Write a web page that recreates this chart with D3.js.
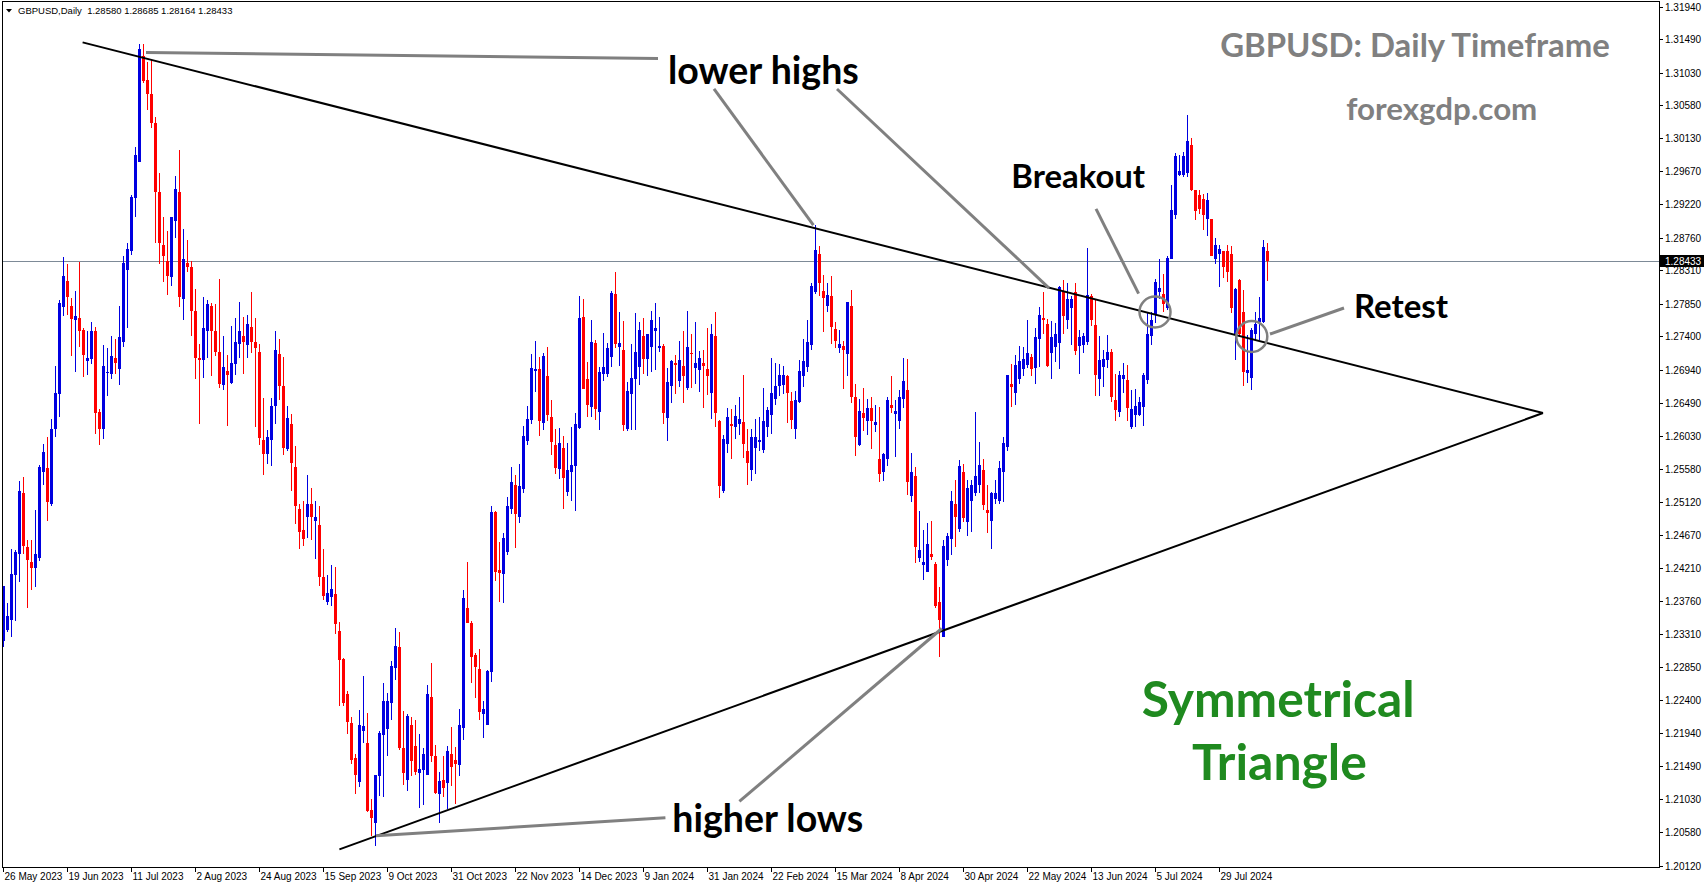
<!DOCTYPE html>
<html>
<head>
<meta charset="utf-8">
<script src="https://cdn.jsdelivr.net/npm/d3@7"></script>
<style>
    html, body { margin: 0; padding: 0; background: #fff; }
    svg { display: block; }
    .axis-text { font-family: "Liberation Sans", Arial, sans-serif; font-size: 10px; fill: #000; }
    .note { font-family: Lato, "Open Sans", sans-serif; font-weight: bold; }
</style>
</head>
<body>
<svg id="chart"></svg>
<script>
const symbol = "GBPUSD,Daily";
const lastQuote = ["1.28580", "1.28685", "1.28164", "1.28433"];
const currentPrice = 1.28433;

const dateLabels = ["26 May 2023", "19 Jun 2023", "11 Jul 2023", "2 Aug 2023", "24 Aug 2023",
    "15 Sep 2023", "9 Oct 2023", "31 Oct 2023", "22 Nov 2023", "14 Dec 2023", "9 Jan 2024",
    "31 Jan 2024", "22 Feb 2024", "15 Mar 2024", "8 Apr 2024", "30 Apr 2024", "22 May 2024",
    "13 Jun 2024", "5 Jul 2024", "29 Jul 2024"];
const dateLabelBars = [0, 16, 32, 48, 64, 80, 96, 112, 128, 144, 160, 176, 192, 208, 224, 240, 256, 272, 288, 304];

const priceTicks = [1.31940, 1.31490, 1.31030, 1.30580, 1.30130, 1.29670, 1.29220, 1.28760, 1.28310,
    1.27850, 1.27400, 1.26940, 1.26490, 1.26030, 1.25580, 1.25120, 1.24670, 1.24210, 1.23760,
    1.23310, 1.22850, 1.22400, 1.21940, 1.21490, 1.21030, 1.20580, 1.20120];

// daily bars, 26 May 2023 .. 14 Aug 2024
const opens = [
    1.2321, 1.2336, 1.2350, 1.2412, 1.2440, 1.2525, 1.2450, 1.2430, 1.2422, 1.2435,
    1.2553, 1.2559, 1.2510, 1.2612, 1.2661, 1.2781, 1.2816, 1.2782, 1.2763, 1.2765,
    1.2749, 1.2706, 1.2709, 1.2747, 1.2636, 1.2613, 1.2690, 1.2688, 1.2711, 1.2695,
    1.2733, 1.2831, 1.2857, 1.2931, 1.2980, 1.3126, 1.3093, 1.3074, 1.3034, 1.2939,
    1.2866, 1.2844, 1.2822, 1.2899, 1.2939, 1.2792, 1.2841, 1.2836, 1.2775, 1.2711,
    1.2707, 1.2748, 1.2782, 1.2747, 1.2719, 1.2673, 1.2693, 1.2676, 1.2702, 1.2729,
    1.2740, 1.2728, 1.2753, 1.2732, 1.2719, 1.2598, 1.2578, 1.2598, 1.2644, 1.2716,
    1.2672, 1.2585, 1.2619, 1.2561, 1.2502, 1.2474, 1.2491, 1.2509, 1.2486, 1.2480,
    1.2409, 1.2375, 1.2381, 1.2386, 1.2335, 1.2296, 1.2248, 1.2208, 1.2160, 1.2127,
    1.2197, 1.2180, 1.2088, 1.2070, 1.2135, 1.2191, 1.2200, 1.2236, 1.2284, 1.2312,
    1.2173, 1.2130, 1.2206, 1.2176, 1.2139, 1.2144, 1.2137, 1.2244, 1.2162, 1.2111,
    1.2130, 1.2126, 1.2166, 1.2157, 1.2150, 1.2201, 1.2366, 1.2346, 1.2302, 1.2282,
    1.2220, 1.2206, 1.2278, 1.2498, 1.2418, 1.2413, 1.2444, 1.2503, 1.2536, 1.2492,
    1.2530, 1.2596, 1.2625, 1.2693, 1.2695, 1.2621, 1.2686, 1.2629, 1.2590, 1.2557,
    1.2587, 1.2526, 1.2554, 1.2562, 1.2614, 1.2767, 1.2682, 1.2643, 1.2731, 1.2636,
    1.2688, 1.2688, 1.2712, 1.2798, 1.2726, 1.2721, 1.2613, 1.2661, 1.2682, 1.2698,
    1.2740, 1.2709, 1.2726, 1.2747, 1.2724, 1.2727, 1.2628, 1.2672, 1.2704, 1.2678,
    1.2700, 1.2669, 1.2717, 1.2697, 1.2694, 1.2703, 1.2695, 1.2662, 1.2740, 1.2624,
    1.2528, 1.2592, 1.2619, 1.2616, 1.2619, 1.2622, 1.2583, 1.2556, 1.2587, 1.2595,
    1.2584, 1.2616, 1.2632, 1.2654, 1.2672, 1.2673, 1.2686, 1.2651, 1.2613, 1.2650,
    1.2686, 1.2698, 1.2728, 1.2801, 1.2853, 1.2802, 1.2782, 1.2795, 1.2750, 1.2724,
    1.2727, 1.2716, 1.2782, 1.2656, 1.2591, 1.2635, 1.2623, 1.2642, 1.2618, 1.2572,
    1.2553, 1.2571, 1.2646, 1.2633, 1.2623, 1.2654, 1.2666, 1.2521, 1.2548, 1.2435,
    1.2426, 1.2416, 1.2441, 1.2427, 1.2374, 1.2327, 1.2433, 1.2461, 1.2509, 1.2475,
    1.2553, 1.2484, 1.2514, 1.2524, 1.2535, 1.2556, 1.2501, 1.2486, 1.2516, 1.2513,
    1.2554, 1.2588, 1.2675, 1.2662, 1.2682, 1.2695, 1.2701, 1.2712, 1.2697, 1.2737,
    1.2765, 1.2757, 1.2717, 1.2726, 1.2731, 1.2801, 1.2763, 1.2779, 1.2801, 1.2727,
    1.2728, 1.2733, 1.2796, 1.2756, 1.2682, 1.2698, 1.2707, 1.2718, 1.2653, 1.2636,
    1.2682, 1.2680, 1.2616, 1.2632, 1.2632, 1.2643, 1.2680, 1.2740, 1.2769, 1.2801,
    1.2799, 1.2779, 1.2847, 1.2907, 1.2962, 1.2962, 1.2965, 1.3003, 1.2941, 1.2935,
    1.2929, 1.2901, 1.2901, 1.2847, 1.2854, 1.2857, 1.2857, 1.2853, 1.2743, 1.2818,
    1.2774, 1.2690, 1.2683, 1.2744, 1.2760, 1.2760, 1.28580
];
const highs = [
    1.2397, 1.2373, 1.2448, 1.2446, 1.2541, 1.2546, 1.2460, 1.2460, 1.2501, 1.2563,
    1.2592, 1.2601, 1.2626, 1.2699, 1.2790, 1.2849, 1.2839, 1.2793, 1.2802, 1.2843,
    1.2751, 1.2748, 1.2760, 1.2753, 1.2640, 1.2728, 1.2724, 1.2740, 1.2736, 1.2782,
    1.2851, 1.2869, 1.2935, 1.3001, 1.3142, 1.3143, 1.3117, 1.3122, 1.3042, 1.2965,
    1.2904, 1.2885, 1.2905, 1.2961, 1.2997, 1.2888, 1.2873, 1.2844, 1.2805, 1.2730,
    1.2794, 1.2790, 1.2786, 1.2784, 1.2819, 1.2740, 1.2715, 1.2754, 1.2766, 1.2788,
    1.2767, 1.2769, 1.2801, 1.2765, 1.2730, 1.2655, 1.2611, 1.2655, 1.2748, 1.2736,
    1.2712, 1.2644, 1.2633, 1.2589, 1.2509, 1.2514, 1.2549, 1.2532, 1.2514, 1.2507,
    1.2448, 1.2412, 1.2426, 1.2423, 1.2347, 1.2298, 1.2252, 1.2217, 1.2166, 1.2226,
    1.2273, 1.2222, 1.2104, 1.2137, 1.2197, 1.2263, 1.2249, 1.2293, 1.2339, 1.2333,
    1.2224, 1.2220, 1.2216, 1.2212, 1.2193, 1.2173, 1.2260, 1.2290, 1.2178, 1.2141,
    1.2163, 1.2176, 1.2202, 1.2175, 1.2228, 1.2391, 1.2430, 1.2349, 1.2304, 1.2310,
    1.2239, 1.2281, 1.2507, 1.2500, 1.2457, 1.2469, 1.2519, 1.2561, 1.2549, 1.2565,
    1.2617, 1.2644, 1.2716, 1.2734, 1.2712, 1.2717, 1.2726, 1.2652, 1.2613, 1.2614,
    1.2603, 1.2593, 1.2616, 1.2635, 1.2795, 1.2791, 1.2705, 1.2763, 1.2735, 1.2698,
    1.2745, 1.2731, 1.2803, 1.2829, 1.2774, 1.2761, 1.2677, 1.2730, 1.2772, 1.2760,
    1.2766, 1.2744, 1.2775, 1.2786, 1.2767, 1.2729, 1.2697, 1.2708, 1.2715, 1.2734,
    1.2747, 1.2775, 1.2743, 1.2760, 1.2720, 1.2721, 1.2752, 1.2757, 1.2774, 1.2625,
    1.2604, 1.2642, 1.2640, 1.2645, 1.2656, 1.2687, 1.2612, 1.2612, 1.2626, 1.2629,
    1.2669, 1.2643, 1.2711, 1.2704, 1.2702, 1.2700, 1.2687, 1.2664, 1.2665, 1.2708,
    1.2736, 1.2763, 1.2813, 1.2893, 1.2864, 1.2825, 1.2813, 1.2823, 1.2760, 1.2749,
    1.2734, 1.2788, 1.2804, 1.2675, 1.2654, 1.2669, 1.2654, 1.2656, 1.2646, 1.2643,
    1.2579, 1.2657, 1.2685, 1.2652, 1.2666, 1.2711, 1.2709, 1.2579, 1.2561, 1.2500,
    1.2473, 1.2483, 1.2486, 1.2429, 1.2395, 1.2460, 1.2470, 1.2528, 1.2542, 1.2570,
    1.2565, 1.2543, 1.2542, 1.2636, 1.2595, 1.2571, 1.2536, 1.2526, 1.2543, 1.2568,
    1.2601, 1.2687, 1.2702, 1.2714, 1.2727, 1.2726, 1.2763, 1.2716, 1.2751, 1.2780,
    1.2801, 1.2764, 1.2761, 1.2758, 1.2810, 1.2817, 1.2814, 1.2796, 1.2813, 1.2749,
    1.2745, 1.2862, 1.2799, 1.2790, 1.2740, 1.2721, 1.2742, 1.2723, 1.2688, 1.2693,
    1.2703, 1.2701, 1.2666, 1.2668, 1.2656, 1.2690, 1.2772, 1.2773, 1.2819, 1.2847,
    1.2826, 1.2850, 1.2949, 1.2992, 1.2990, 1.2994, 1.3045, 1.3013, 1.2942, 1.2941,
    1.2936, 1.2937, 1.2902, 1.2876, 1.2866, 1.2857, 1.2866, 1.2865, 1.2806, 1.2819,
    1.2804, 1.2742, 1.2751, 1.2774, 1.2794, 1.2873, 1.28685
];
const lows = [
    1.2313, 1.2333, 1.2327, 1.2348, 1.2402, 1.2441, 1.2367, 1.2391, 1.2395, 1.2431,
    1.2535, 1.2486, 1.2507, 1.2601, 1.2629, 1.2768, 1.2770, 1.2713, 1.2691, 1.2726,
    1.2684, 1.2687, 1.2702, 1.2606, 1.2591, 1.2599, 1.2658, 1.2681, 1.2689, 1.2673,
    1.2725, 1.2751, 1.2852, 1.2904, 1.2980, 1.3089, 1.3051, 1.3027, 1.2868, 1.2839,
    1.2815, 1.2797, 1.2810, 1.2875, 1.2781, 1.2763, 1.2828, 1.2741, 1.2681, 1.2620,
    1.2683, 1.2711, 1.2685, 1.2713, 1.2669, 1.2666, 1.2617, 1.2674, 1.2687, 1.2711,
    1.2689, 1.2710, 1.2717, 1.2615, 1.2591, 1.2549, 1.2565, 1.2562, 1.2619, 1.2653,
    1.2577, 1.2583, 1.2527, 1.2482, 1.2447, 1.2451, 1.2463, 1.2460, 1.2434, 1.2397,
    1.2378, 1.2370, 1.2369, 1.2331, 1.2232, 1.2231, 1.2193, 1.2152, 1.2110, 1.2120,
    1.2181, 1.2086, 1.2053, 1.2039, 1.2108, 1.2106, 1.2163, 1.2212, 1.2267, 1.2171,
    1.2123, 1.2115, 1.2135, 1.2137, 1.2091, 1.2095, 1.2136, 1.2154, 1.2111, 1.2070,
    1.2106, 1.2090, 1.2122, 1.2097, 1.2135, 1.2185, 1.2345, 1.2263, 1.2242, 1.2212,
    1.2188, 1.2205, 1.2265, 1.2403, 1.2375, 1.2373, 1.2439, 1.2496, 1.2449, 1.2483,
    1.2525, 1.2590, 1.2619, 1.2663, 1.2603, 1.2611, 1.2623, 1.2577, 1.2551, 1.2544,
    1.2503, 1.2520, 1.2514, 1.2500, 1.2612, 1.2667, 1.2629, 1.2629, 1.2625, 1.2611,
    1.2679, 1.2684, 1.2698, 1.2724, 1.2700, 1.2610, 1.2610, 1.2611, 1.2611, 1.2673,
    1.2688, 1.2686, 1.2691, 1.2694, 1.2719, 1.2619, 1.2596, 1.2649, 1.2661, 1.2671,
    1.2649, 1.2666, 1.2669, 1.2675, 1.2663, 1.2641, 1.2659, 1.2626, 1.2616, 1.2518,
    1.2525, 1.2580, 1.2571, 1.2599, 1.2605, 1.2573, 1.2535, 1.2541, 1.2551, 1.2583,
    1.2579, 1.2602, 1.2606, 1.2646, 1.2658, 1.2661, 1.2621, 1.2613, 1.2599, 1.2649,
    1.2671, 1.2691, 1.2721, 1.2798, 1.2795, 1.2746, 1.2774, 1.2730, 1.2724, 1.2717,
    1.2668, 1.2685, 1.2649, 1.2575, 1.2589, 1.2610, 1.2604, 1.2585, 1.2608, 1.2540,
    1.2541, 1.2562, 1.2635, 1.2574, 1.2613, 1.2641, 1.2522, 1.2512, 1.2428, 1.2430,
    1.2405, 1.2416, 1.2433, 1.2366, 1.2299, 1.2327, 1.2424, 1.2439, 1.2450, 1.2471,
    1.2484, 1.2465, 1.2471, 1.2520, 1.2524, 1.2501, 1.2469, 1.2447, 1.2510, 1.2509,
    1.2512, 1.2583, 1.2643, 1.2645, 1.2675, 1.2685, 1.2696, 1.2685, 1.2675, 1.2698,
    1.2744, 1.2698, 1.2681, 1.2705, 1.2695, 1.2743, 1.2750, 1.2728, 1.2715, 1.2688,
    1.2717, 1.2728, 1.2755, 1.2658, 1.2658, 1.2671, 1.2697, 1.2650, 1.2623, 1.2629,
    1.2662, 1.2623, 1.2613, 1.2616, 1.2630, 1.2617, 1.2675, 1.2728, 1.2759, 1.2792,
    1.2774, 1.2777, 1.2846, 1.2901, 1.2961, 1.2959, 1.2960, 1.2940, 1.2900, 1.2909,
    1.2887, 1.2878, 1.2850, 1.2840, 1.2808, 1.2820, 1.2815, 1.2772, 1.2707, 1.2740,
    1.2672, 1.2676, 1.2666, 1.2734, 1.2735, 1.2759, 1.28164
];
const closes = [
    1.2397, 1.2355, 1.2413, 1.2443, 1.2527, 1.2451, 1.2432, 1.2422, 1.2440, 1.2561,
    1.2581, 1.2512, 1.2613, 1.2662, 1.2786, 1.2823, 1.2794, 1.2764, 1.2768, 1.2747,
    1.2715, 1.2711, 1.2748, 1.2635, 1.2612, 1.2699, 1.2691, 1.2713, 1.2704, 1.2739,
    1.2841, 1.2861, 1.2932, 1.2989, 1.3135, 1.3092, 1.3073, 1.3034, 1.2939, 1.2868,
    1.2851, 1.2823, 1.2904, 1.2943, 1.2794, 1.2847, 1.2835, 1.2775, 1.2710, 1.2707,
    1.2751, 1.2785, 1.2748, 1.2718, 1.2675, 1.2698, 1.2687, 1.2704, 1.2732, 1.2747,
    1.2732, 1.2757, 1.2732, 1.2724, 1.2600, 1.2578, 1.2602, 1.2644, 1.2721, 1.2672,
    1.2587, 1.2628, 1.2566, 1.2507, 1.2471, 1.2461, 1.2509, 1.2492, 1.2492, 1.2409,
    1.2383, 1.2387, 1.2392, 1.2344, 1.2295, 1.2236, 1.2210, 1.2157, 1.2136, 1.2205,
    1.2204, 1.2087, 1.2078, 1.2136, 1.2194, 1.2238, 1.2238, 1.2286, 1.2314, 1.2174,
    1.2139, 1.2218, 1.2156, 1.2140, 1.2145, 1.2166, 1.2248, 1.2162, 1.2112, 1.2128,
    1.2118, 1.2170, 1.2148, 1.2152, 1.2205, 1.2380, 1.2345, 1.2299, 1.2285, 1.2223,
    1.2227, 1.2280, 1.2498, 1.2416, 1.2414, 1.2463, 1.2507, 1.2540, 1.2495, 1.2534,
    1.2603, 1.2627, 1.2697, 1.2695, 1.2623, 1.2713, 1.2632, 1.2595, 1.2559, 1.2594,
    1.2545, 1.2556, 1.2563, 1.2619, 1.2766, 1.2668, 1.2646, 1.2733, 1.2640, 1.2691,
    1.2698, 1.2724, 1.2800, 1.2730, 1.2731, 1.2618, 1.2665, 1.2683, 1.2719, 1.2749,
    1.2709, 1.2744, 1.2762, 1.2752, 1.2727, 1.2635, 1.2677, 1.2706, 1.2701, 1.2708,
    1.2686, 1.2725, 1.2716, 1.2703, 1.2710, 1.2700, 1.2686, 1.2744, 1.2634, 1.2534,
    1.2599, 1.2629, 1.2617, 1.2631, 1.2627, 1.2592, 1.2566, 1.2601, 1.2601, 1.2598,
    1.2624, 1.2639, 1.2662, 1.2672, 1.2687, 1.2687, 1.2662, 1.2625, 1.2653, 1.2692,
    1.2706, 1.2733, 1.2809, 1.2859, 1.2813, 1.2793, 1.2797, 1.2753, 1.2734, 1.2730,
    1.2721, 1.2788, 1.2657, 1.2601, 1.2637, 1.2628, 1.2642, 1.2623, 1.2622, 1.2551,
    1.2578, 1.2652, 1.2642, 1.2637, 1.2656, 1.2678, 1.2540, 1.2554, 1.2450, 1.2446,
    1.2429, 1.2455, 1.2436, 1.2369, 1.2350, 1.2451, 1.2465, 1.2513, 1.2492, 1.2562,
    1.2490, 1.2531, 1.2535, 1.2548, 1.2563, 1.2508, 1.2497, 1.2524, 1.2524, 1.2559,
    1.2593, 1.2687, 1.2671, 1.2701, 1.2706, 1.2709, 1.2717, 1.2695, 1.2739, 1.2770,
    1.2763, 1.2699, 1.2739, 1.2743, 1.2808, 1.2768, 1.2792, 1.2791, 1.2720, 1.2739,
    1.2740, 1.2797, 1.2762, 1.2687, 1.2707, 1.2709, 1.2719, 1.2657, 1.2639, 1.2687,
    1.2687, 1.2641, 1.2640, 1.2644, 1.2650, 1.2687, 1.2743, 1.2763, 1.2815, 1.2807,
    1.2785, 1.2848, 1.2914, 1.2988, 1.2968, 1.2988, 1.3009, 1.2941, 1.2912, 1.2915,
    1.2907, 1.2928, 1.2851, 1.2866, 1.2861, 1.2836, 1.2828, 1.2779, 1.2805, 1.2744,
    1.2691, 1.2694, 1.2749, 1.2757, 1.2765, 1.2863, 1.28433
];

// triangle boundaries as [bar, price]
const upperTrend = [[19.9, 1.31446], [385, 1.26346]];
const lowerTrend = [[84.1, 1.20342], [385, 1.26346]];

// grey pointer lines as [bar, price] pairs
const pointerLines = [
    [[35.75, 1.31307], [163.75, 1.31224]],
    [[177.75, 1.30805], [202.6, 1.28933]],
    [[208.5, 1.30805], [261.5, 1.28066]],
    [[93.25, 1.20529], [165.6, 1.20777]],
    [[184.1, 1.21001], [234.7, 1.23381]],
    [[273.25, 1.29156], [283.9, 1.27989]],
    [[335.25, 1.27791], [316.75, 1.27433]]
];
const circlePoints = [[288, 1.27736], [312.2, 1.27399]];

const notes = [
    { text: "GBPUSD: Daily Timeframe", bar: 353.0, price: 1.31416, kind: "title" },
    { text: "forexgdp.com", bar: 359.7, price: 1.30547, kind: "title" },
    { text: "lower highs", bar: 190.1, price: 1.31072, kind: "label" },
    { text: "Breakout", bar: 268.8, price: 1.29620, kind: "label" },
    { text: "Retest", bar: 349.5, price: 1.27839, kind: "label" },
    { text: "Symmetrical", bar: 318.8, price: 1.22423, kind: "pattern" },
    { text: "Triangle", bar: 319.1, price: 1.21555, kind: "pattern" },
    { text: "higher lows", bar: 191.2, price: 1.20777, kind: "label" }
];

function render() {
    const width = 1705;
    const height = 888;
    const plot = { left: 2, right: 1659, top: 1, bottom: 867 };

    const svg = d3.select("#chart")
        .attr("width", width)
        .attr("height", height);

    const x = d3.scaleLinear().domain([0, closes.length - 1]).range([3, 3 + 4 * (closes.length - 1)]);
    const y = d3.scaleLinear().domain([1.2012, 1.3194]).range([865.5, 6.5]);

    const bars = closes.map(function (c, i) {
        return { i: i, o: opens[i], h: highs[i], l: lows[i], c: c };
    });

    svg.append("rect")
        .attr("width", width)
        .attr("height", height)
        .attr("fill", "#fff");

    // current price line, behind the candles
    svg.append("line")
        .attr("x1", plot.left)
        .attr("x2", plot.right)
        .attr("y1", Math.round(y(currentPrice)) + 0.5)
        .attr("y2", Math.round(y(currentPrice)) + 0.5)
        .attr("stroke", "#7d8a97")
        .attr("stroke-width", 1);

    const candles = svg.append("g")
        .attr("shape-rendering", "crispEdges");

    const color = function (d) {
        return d.c >= d.o ? "#0000e0" : "#ff0000";
    };

    candles.selectAll(".wick")
        .data(bars)
        .enter().append("rect")
        .attr("class", "wick")
        .attr("x", function (d) { return Math.round(x(d.i)); })
        .attr("y", function (d) { return y(d.h); })
        .attr("width", 1)
        .attr("height", function (d) { return Math.max(1, y(d.l) - y(d.h)); })
        .attr("fill", color);

    candles.selectAll(".body")
        .data(bars)
        .enter().append("rect")
        .attr("class", "body")
        .attr("x", function (d) { return Math.round(x(d.i)) - 1; })
        .attr("y", function (d) { return y(Math.max(d.o, d.c)); })
        .attr("width", 3)
        .attr("height", function (d) { return Math.max(1, Math.abs(y(d.o) - y(d.c))); })
        .attr("fill", color);

    // frame and axes
    svg.append("rect")
        .attr("x", plot.left + 0.5)
        .attr("y", plot.top + 0.5)
        .attr("width", plot.right - plot.left)
        .attr("height", plot.bottom - plot.top)
        .attr("fill", "none")
        .attr("stroke", "#000")
        .attr("stroke-width", 1)
        .attr("shape-rendering", "crispEdges");

    const fmt = d3.format(".5f");
    const yAxis = svg.append("g").attr("shape-rendering", "crispEdges");
    priceTicks.forEach(function (p) {
        const ty = Math.round(y(p)) + 0.5;
        yAxis.append("line")
            .attr("x1", plot.right + 1).attr("x2", plot.right + 4)
            .attr("y1", ty).attr("y2", ty)
            .attr("stroke", "#000");
        yAxis.append("text")
            .attr("class", "axis-text")
            .attr("x", plot.right + 6)
            .attr("y", ty)
            .attr("dy", "0.35em")
            .text(fmt(p));
    });

    // current price tag
    const py = y(currentPrice);
    svg.append("rect")
        .attr("x", plot.right + 1)
        .attr("y", Math.round(py) - 6)
        .attr("width", 44)
        .attr("height", 12)
        .attr("fill", "#000");
    svg.append("text")
        .attr("class", "axis-text")
        .attr("x", plot.right + 6)
        .attr("y", py)
        .attr("dy", "0.35em")
        .attr("fill", "#fff")
        .style("fill", "#fff")
        .text(fmt(currentPrice));

    const xAxis = svg.append("g").attr("shape-rendering", "crispEdges");
    dateLabelBars.forEach(function (b, k) {
        const tx = Math.round(x(b)) + 0.5;
        xAxis.append("line")
            .attr("x1", tx).attr("x2", tx)
            .attr("y1", plot.bottom + 1).attr("y2", plot.bottom + 5)
            .attr("stroke", "#000");
        xAxis.append("text")
            .attr("class", "axis-text")
            .attr("x", tx + 1)
            .attr("y", plot.bottom + 13)
            .text(dateLabels[k]);
    });

    // header
    svg.append("path")
        .attr("d", "M6,9 L12,9 L9,12.5 Z")
        .attr("fill", "#000");
    svg.append("text")
        .attr("class", "axis-text")
        .attr("x", 18)
        .attr("y", 14)
        .style("white-space", "pre")
        .style("font-size", "9.5px")
        .text(symbol + "  " + lastQuote.join(" "));

    // triangle lines
    const line = d3.line()
        .x(function (d) { return x(d[0]); })
        .y(function (d) { return y(d[1]); });

    svg.selectAll(".trend")
        .data([upperTrend, lowerTrend])
        .enter().append("path")
        .attr("class", "trend")
        .attr("d", line)
        .attr("fill", "none")
        .attr("stroke", "#000")
        .attr("stroke-width", 2);

    svg.selectAll(".pointer")
        .data(pointerLines)
        .enter().append("path")
        .attr("class", "pointer")
        .attr("d", line)
        .attr("fill", "none")
        .attr("stroke", "#808080")
        .attr("stroke-width", 3);

    svg.selectAll(".ring")
        .data(circlePoints)
        .enter().append("circle")
        .attr("class", "ring")
        .attr("cx", function (d) { return x(d[0]); })
        .attr("cy", function (d) { return y(d[1]); })
        .attr("r", 15.5)
        .attr("fill", "none")
        .attr("stroke", "#808080")
        .attr("stroke-width", 2.5);

    // annotation texts, sized to match their width in the picture
    const fitWidth = {
        "GBPUSD: Daily Timeframe": 390, "forexgdp.com": 191, "lower highs": 191,
        "Breakout": 134, "Retest": 94, "Symmetrical": 273, "Triangle": 175, "higher lows": 191
    };
    const kindColor = { title: "#808080", label: "#000", pattern: "#1f8a1f" };

    svg.selectAll(".note")
        .data(notes)
        .enter().append("text")
        .attr("class", "note")
        .attr("x", function (d) { return x(d.bar); })
        .attr("y", function (d) { return y(d.price); })
        .attr("text-anchor", "middle")
        .attr("dominant-baseline", "central")
        .attr("fill", function (d) { return kindColor[d.kind]; })
        .style("font-size", "40px")
        .text(function (d) { return d.text; })
        .each(function (d) {
            const len = this.getComputedTextLength();
            d3.select(this).style("font-size", (40 * fitWidth[d.text] / len).toFixed(1) + "px");
        });
}

render();
</script>
</body>
</html>
